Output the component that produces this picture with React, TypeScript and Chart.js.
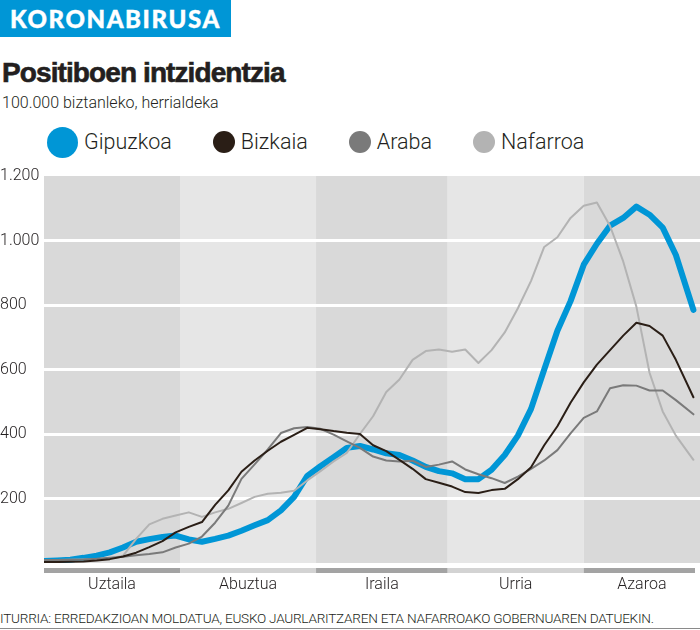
import React, { useEffect, useRef } from "react";
import { Chart, registerables } from "chart.js";

Chart.register(...registerables);

// ---- data ----
const days = [0, 3, 6, 9, 12, 15, 18, 21, 24, 27, 30, 33, 36, 39, 42, 45, 48, 51, 54, 57, 60, 63, 66, 69, 72, 75, 78, 81, 84, 87, 90, 93, 96, 99, 102, 105, 108, 111, 114, 117, 120, 123, 126, 129, 132, 135, 138, 141, 144, 148];

const gipuzkoa = [6, 8, 10, 16, 23, 33, 48, 66, 74, 81, 85, 73, 66, 75, 85, 100, 117, 133, 163, 205, 270, 300, 328, 357, 363, 352, 340, 335, 318, 298, 285, 278, 260, 260, 289, 335, 395, 478, 600, 720, 812, 925, 990, 1046, 1070, 1105, 1080, 1040, 955, 785];
const bizkaia = [3, 3, 4, 5, 8, 12, 20, 32, 49, 68, 95, 112, 127, 180, 225, 283, 318, 348, 376, 397, 419, 415, 409, 404, 400, 365, 347, 320, 292, 260, 249, 237, 220, 217, 226, 230, 260, 297, 365, 424, 497, 560, 615, 660, 705, 745, 735, 705, 630, 514];
const araba = [9, 9, 10, 11, 13, 16, 19, 24, 28, 33, 48, 60, 82, 125, 178, 261, 306, 352, 403, 418, 422, 416, 398, 377, 357, 330, 318, 315, 317, 298, 305, 315, 290, 275, 263, 248, 268, 292, 318, 350, 402, 450, 470, 542, 551, 550, 535, 535, 505, 461];
const nafarroa = [9, 9, 10, 11, 12, 15, 22, 75, 120, 137, 147, 157, 143, 157, 168, 186, 205, 215, 218, 224, 256, 285, 315, 341, 400, 455, 530, 569, 630, 657, 662, 655, 662, 620, 660, 715, 790, 875, 980, 1010, 1070, 1108, 1118, 1045, 935, 795, 590, 470, 395, 320];

const seriesNames = ["Gipuzkoa", "Bizkaia", "Araba", "Nafarroa"];
const seriesValues = [gipuzkoa, bizkaia, araba, nafarroa];

const months = ["Uztaila", "Abuztua", "Iraila", "Urria", "Azaroa"];
const monthStarts = [0, 31, 62, 92, 123];
const xMax = 149.5;
const yTicks = [200, 400, 600, 800, 1000, 1200];

// ---- styles ----
const seriesColors = ["#0096d6", "#2a1e16", "#7a7a7a", "#b3b3b3"];
const seriesWidths = [6, 2, 2, 2];
const seriesOrder = [4, 1, 2, 3];
const legendSizes = [31, 22, 22, 22];
const bandColors = ["#d9d9d9", "#e6e6e6"];
const barColors = ["#a3a3a3", "#d3d3d3"];
const textColor = "#231f20";

function fmt(v: number): string {
  const s = String(Math.round(v));
  return s.length > 3 ? s.slice(0, s.length - 3) + "." + s.slice(s.length - 3) : s;
}

const bandPlugin = {
  id: "bands",
  beforeDraw(chart: any) {
    const { ctx, chartArea, scales } = chart;
    const x = scales.x;
    ctx.save();
    for (let i = 0; i < months.length; i++) {
      const s = x.getPixelForValue(monthStarts[i]);
      const last = i + 1 >= months.length;
      const e = last ? chartArea.right : x.getPixelForValue(monthStarts[i + 1]);
      ctx.fillStyle = bandColors[i % 2];
      ctx.fillRect(s, chartArea.top, e - s, chartArea.bottom - chartArea.top);
      ctx.fillStyle = barColors[i % 2];
      const be = last ? chartArea.right - 5 : e;
      ctx.fillRect(s, chartArea.bottom + 5, be - s, 5);
    }
    ctx.restore();
  },
};

export default function App() {
  const ref = useRef<HTMLCanvasElement>(null);

  useEffect(() => {
    if (!ref.current) return;
    Chart.defaults.font.family = "Roboto";
    const chart = new Chart(ref.current, {
      type: "line",
      data: {
        datasets: seriesNames.map((name, i) => ({
          label: name,
          data: days.map((d, j) => ({ x: d, y: seriesValues[i][j] })),
          borderColor: seriesColors[i],
          backgroundColor: seriesColors[i],
          borderWidth: seriesWidths[i],
          pointRadius: 0,
          tension: 0,
          borderJoinStyle: "round",
          borderCapStyle: "round",
          order: seriesOrder[i],
        })),
      },
      options: {
        responsive: false,
        animation: false,
        layout: { padding: { top: 16, left: 0, right: 0, bottom: 0 } },
        plugins: { legend: { display: false }, tooltip: { enabled: false } },
        scales: {
          x: {
            type: "linear",
            min: 0,
            max: xMax,
            grid: { display: false, drawTicks: false },
            border: { display: false },
            afterBuildTicks: (scale: any) => {
              scale.ticks = months.map((m, i) => ({
                value: (monthStarts[i] + (i + 1 < months.length ? monthStarts[i + 1] : xMax)) / 2,
              }));
            },
            ticks: {
              autoSkip: false,
              maxRotation: 0,
              padding: 12,
              color: textColor,
              font: { size: 16, weight: "300" },
              callback: (_v: any, i: number) => months[i],
            },
            afterFit: (scale: any) => {
              scale.height = 37;
            },
          },
          y: {
            min: 0,
            max: 1200,
            afterBuildTicks: (scale: any) => {
              scale.ticks = yTicks.map((v) => ({ value: v }));
            },
            grid: {
              drawTicks: false,
              lineWidth: 3,
              color: (ctx: any) =>
                ctx.tick && ctx.tick.value > 0 && ctx.tick.value < 1200 ? "#ffffff" : "rgba(0,0,0,0)",
            },
            border: { display: false },
            ticks: {
              crossAlign: "far",
              padding: 0,
              color: textColor,
              font: { size: 16, weight: "300" },
              callback: (v: any) => fmt(Number(v)),
            },
            afterFit: (scale: any) => {
              scale.width = 44;
            },
          },
        },
      },
      plugins: [bandPlugin],
    } as any);
    return () => chart.destroy();
  }, []);

  return (
    <div
      style={{
        position: "absolute",
        left: 0,
        top: 0,
        width: 700,
        height: 630,
        background: "#ffffff",
        fontFamily: "Roboto",
        color: textColor,
        overflow: "hidden",
      }}
    >
      <div style={{ position: "absolute", left: 0, top: 0, width: 231, height: 37, background: "#0096d6" }}>
        <span
          style={{
            position: "absolute",
            left: 10,
            top: 0,
            lineHeight: "37px",
            fontFamily: "Lato",
            fontWeight: 900,
            fontSize: 24,
            letterSpacing: 1.6,
            color: "#ffffff",
            WebkitTextStroke: "0.4px #ffffff",
          }}
        >
          KORONABIRUSA
        </span>
      </div>
      <div
        style={{
          position: "absolute",
          left: 2,
          top: 57,
          fontFamily: "'Liberation Sans'",
          fontWeight: 700,
          fontSize: 28,
          letterSpacing: -0.9,
          lineHeight: "32px",
          whiteSpace: "nowrap",
          WebkitTextStroke: "0.6px #231f20",
        }}
      >
        Positiboen intzidentzia
      </div>
      <div
        style={{
          position: "absolute",
          left: 2,
          top: 93,
          fontWeight: 300,
          fontSize: 16,
          lineHeight: "20px",
          whiteSpace: "nowrap",
        }}
      >
        100.000 biztanleko, herrialdeka
      </div>
      <div
        style={{
          position: "absolute",
          left: 47,
          top: 126,
          height: 32,
          display: "flex",
          alignItems: "center",
          gap: 41,
        }}
      >
        {seriesNames.map((n, i) => (
          <div key={n} style={{ display: "flex", alignItems: "center", gap: 6 }}>
            <div
              style={{
                width: legendSizes[i],
                height: legendSizes[i],
                borderRadius: "50%",
                background: seriesColors[i],
              }}
            />
            <span style={{ fontWeight: 300, fontSize: 21.5, lineHeight: "32px", whiteSpace: "nowrap" }}>{n}</span>
          </div>
        ))}
      </div>
      <canvas ref={ref} width={700} height={440} style={{ position: "absolute", left: 0, top: 160 }} />
      <div
        style={{
          position: "absolute",
          left: 0,
          top: 610,
          fontWeight: 300,
          fontSize: 13.6,
          lineHeight: "16px",
          letterSpacing: -0.25,
          whiteSpace: "nowrap",
        }}
      >
        ITURRIA: ERREDAKZIOAN MOLDATUA, EUSKO JAURLARITZAREN ETA NAFARROAKO GOBERNUAREN DATUEKIN.
      </div>
      <div style={{ position: "absolute", left: 0, top: 628, width: 700, height: 1, background: "#8a8a8a" }} />
    </div>
  );
}
